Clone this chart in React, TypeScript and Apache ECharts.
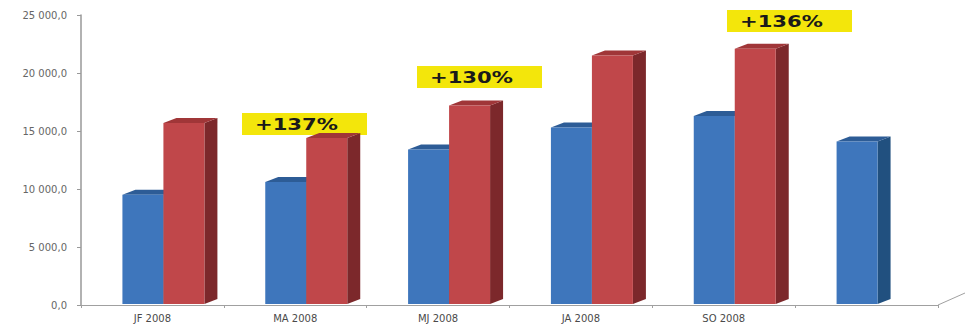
import React, { useEffect, useRef } from "react";
import * as echarts from "echarts";

const categories = ["JF 2008", "MA 2008", "MJ 2008", "JA 2008", "SO 2008", ""];
const blueValues = [9500, 10600, 13400, 15300, 16300, 14100];
const redValues: (number | null)[] = [15700, 14400, 17200, 21500, 22100, null];
const yTicks = [0, 5000, 10000, 15000, 20000, 25000];
const yTickLabels = ["0,0", "5 000,0", "10 000,0", "15 000,0", "20 000,0", "25 000,0"];
const annotationLabels = ["+137%", "+130%", "+136%"];

const BLUE = { front: "#3E76BC", top: "#2D5C96", side: "#21507F" };
const RED = { front: "#C0474A", top: "#A03638", side: "#7C282B" };

function make3DRenderer(offsetFrac: number, colors: { front: string; top: string; side: string }) {
  return (params: any, api: any) => {
    const i = api.value(0);
    const v = api.value(1);
    if (v == null || isNaN(v)) return null;
    const base = api.coord([i, 0]);
    const top = api.coord([i, v]);
    const band = api.size([1, 0])[0];
    const w = band * 0.287;
    const left = base[0] + band * offsetFrac;
    const right = left + w;
    const dx = 13;
    const dy = 5;
    const y0 = base[1] - 1;
    const y1 = top[1];
    return {
      type: "group",
      children: [
        {
          type: "polygon",
          shape: { points: [[right, y1], [right + dx, y1 - dy], [right + dx, y0 - dy], [right, y0]] },
          style: { fill: colors.side },
        },
        {
          type: "polygon",
          shape: { points: [[left, y1], [left + dx, y1 - dy], [right + dx, y1 - dy], [right, y1]] },
          style: { fill: colors.top },
        },
        {
          type: "rect",
          shape: { x: left, y: y1, width: w, height: y0 - y1 },
          style: { fill: colors.front },
        },
      ],
    };
  };
}

function annotation(left: number, top: number, text: string) {
  return {
    type: "group",
    x: left,
    y: top,
    children: [
      { type: "rect", shape: { x: 0, y: 0, width: 125, height: 22 }, style: { fill: "#F3E60B" } },
      {
        type: "text",
        x: 13,
        y: 11.5,
        scaleX: 1.32,
        style: {
          text,
          fill: "#1a1a1a",
          font: "bold 16px 'DejaVu Sans'",
          textAlign: "left",
          textVerticalAlign: "middle",
        },
      },
    ],
  };
}

export default function App() {
  const ref = useRef<HTMLDivElement>(null);
  useEffect(() => {
    if (!ref.current) return;
    const chart = echarts.init(ref.current, undefined, { renderer: "svg" });
    chart.setOption({
      animation: false,
      backgroundColor: "#ffffff",
      grid: { left: 81, top: 15, right: 27, bottom: 24, containLabel: false },
      xAxis: {
        type: "category",
        data: categories,
        axisLine: { show: true, lineStyle: { color: "#a0a0a0", width: 1 } },
        axisTick: { show: true, length: 3, lineStyle: { color: "#a0a0a0" } },
        axisLabel: { color: "#4a4a4a", fontSize: 10, fontFamily: "DejaVu Sans", margin: 8 },
        splitLine: { show: false },
      },
      yAxis: {
        type: "value",
        min: 0,
        max: 25000,
        interval: 5000,
        axisLine: { show: true, lineStyle: { color: "#999999", width: 1.5 } },
        axisTick: { show: true, length: 4, lineStyle: { color: "#999999" } },
        axisLabel: {
          color: "#666666",
          fontSize: 10,
          fontFamily: "DejaVu Sans",
          margin: 14,
          formatter: (val: number) => {
            const idx = yTicks.indexOf(val);
            return idx >= 0 ? yTickLabels[idx] : "";
          },
        },
        splitLine: { show: false },
      },
      series: [
        {
          type: "custom",
          name: "Blue",
          renderItem: make3DRenderer(-0.21, BLUE),
          encode: { x: 0, y: 1 },
          data: blueValues.map((v, i) => [i, v]),
          z: 2,
        },
        {
          type: "custom",
          name: "Red",
          renderItem: make3DRenderer(0.077, RED),
          encode: { x: 0, y: 1 },
          data: redValues.map((v, i) => [i, v == null ? NaN : v]),
          z: 3,
        },
      ],
      graphic: [
        {
          type: "line",
          shape: { x1: 938, y1: 305, x2: 965, y2: 293 },
          style: { stroke: "#a0a0a0", lineWidth: 1 },
        },
        annotation(242, 113, annotationLabels[0]),
        annotation(417, 66, annotationLabels[1]),
        annotation(727, 10, annotationLabels[2]),
      ],
    });
    return () => chart.dispose();
  }, []);
  return <div ref={ref} style={{ width: 965, height: 329, position: "absolute", left: 0, top: 0 }} />;
}
